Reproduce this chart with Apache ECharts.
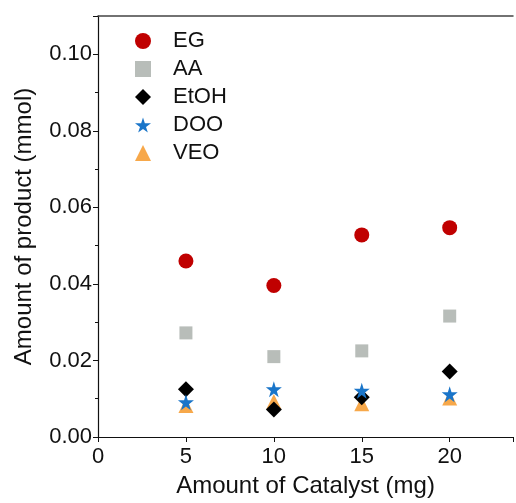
<!DOCTYPE html>
<html>
<head>
<meta charset="utf-8">
<script src="https://cdn.jsdelivr.net/npm/echarts@6/dist/echarts.min.js"></script>
<style>
html,body{margin:0;padding:0;background:#fff;}
#chart{width:516px;height:503px;}
</style>
</head>
<body>
<div id="chart"></div>
<script>
var catalyst = [5, 10, 15, 20];
var eg   = [0.0460, 0.0396, 0.0528, 0.0547];
var aa   = [0.0272, 0.0210, 0.0225, 0.0316];
var etoh = [0.0125, 0.0072, 0.0104, 0.0171];
var doo  = [0.0091, 0.0125, 0.0121, 0.0112];
var veo  = [0.0082, 0.0093, 0.0087, 0.0102];
var legendNames = ['EG', 'AA', 'EtOH', 'DOO', 'VEO'];

var star = 'path://M50,0 L61,35 L98,35 L68,57 L79,91 L50,70 L21,91 L32,57 L2,35 L39,35 Z';
var font = 'Liberation Sans';

function pairs(ys){
	var out = [];
	for(var i=0;i<catalyst.length;i++){
		out.push([catalyst[i], ys[i]]);
	}
	return out;
}

var myChart = echarts.init(document.getElementById('chart'));

var option = {
	animation: false,
	grid: {left: 98, right: 0, top: 16, bottom: 62},
	legend: {
		data: legendNames,
		orient: 'vertical',
		left: 130,
		top: 25,
		itemWidth: 16,
		itemHeight: 16,
		itemGap: 6,
		textStyle: {fontFamily: font, fontSize: 22, color: '#111', padding: [0, 0, 0, 17]}
	},
	xAxis: [{
		type: 'value',
		min: 0,
		max: 23.6,
		interval: 5,
		name: 'Amount of Catalyst (mg)',
		nameLocation: 'middle',
		nameGap: 37,
		nameTextStyle: {fontFamily: font, fontSize: 24, color: '#111'},
		splitLine: {show: false},
		axisLine: {lineStyle: {color: '#111', width: 1.2}},
		axisTick: {length: 5, lineStyle: {color: '#111'}},
		axisLabel: {
			fontFamily: font, fontSize: 22, color: '#111', margin: 9,
			formatter: function(v){ return v % 5 === 0 ? String(v) : ''; }
		}
	}, {
		type: 'value',
		position: 'top',
		min: 0,
		max: 23.6,
		axisLine: {show: true, onZero: false, lineStyle: {color: '#444', width: 1.5}},
		axisTick: {show: false},
		axisLabel: {show: false},
		splitLine: {show: false}
	}],
	yAxis: [{
		type: 'value',
		min: 0,
		max: 0.11,
		interval: 0.02,
		name: 'Amount of product (mmol)',
		nameLocation: 'middle',
		nameGap: 62,
		nameTextStyle: {fontFamily: font, fontSize: 24, color: '#111'},
		splitLine: {show: false},
		axisLine: {show: true, lineStyle: {color: '#111', width: 1.2}},
		axisTick: {length: 5, lineStyle: {color: '#111'}},
		axisLabel: {
			fontFamily: font, fontSize: 22, color: '#111', margin: 6,
			formatter: function(v){ return v > 0.105 ? '' : v.toFixed(2); }
		}
	}, {
		type: 'value',
		position: 'left',
		min: 0,
		max: 0.11,
		interval: 0.01,
		axisLine: {show: false},
		axisTick: {show: true, length: 3, lineStyle: {color: '#111'}},
		axisLabel: {show: false},
		splitLine: {show: false}
	}],
	series: [
		{name: 'VEO', type: 'scatter', symbol: 'triangle', symbolSize: 15,
			itemStyle: {color: '#f7a84a', opacity: 1}, data: pairs(veo)},
		{name: 'AA', type: 'scatter', symbol: 'rect', symbolSize: 13,
			itemStyle: {color: '#b8bdb9', opacity: 1}, data: pairs(aa)},
		{name: 'EtOH', type: 'scatter', symbol: 'diamond', symbolSize: 16,
			itemStyle: {color: '#000', opacity: 1}, data: pairs(etoh)},
		{name: 'DOO', type: 'scatter', symbol: star, symbolSize: 16,
			itemStyle: {color: '#1a75c9', opacity: 1}, data: pairs(doo)},
		{name: 'EG', type: 'scatter', symbol: 'circle', symbolSize: 15,
			itemStyle: {color: '#c00000', opacity: 1}, data: pairs(eg)}
	]
};

myChart.setOption(option);
</script>
</body>
</html>
